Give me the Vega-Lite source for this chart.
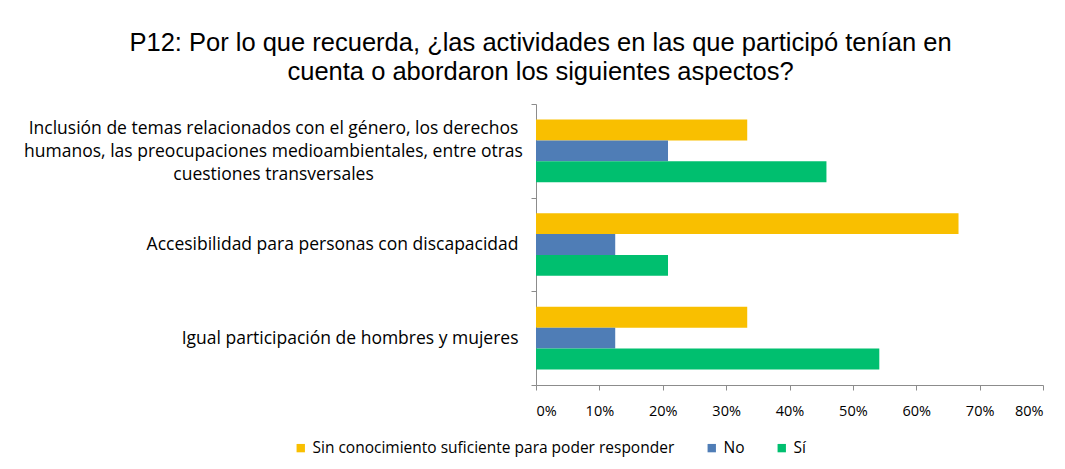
{
  "$schema": "https://vega.github.io/schema/vega-lite/v6.json",
  "width": 507,
  "height": 281,
  "padding": {"left": 23, "top": 30, "right": 10, "bottom": 10},
  "background": "white",
  "title": {
    "text": ["P12: Por lo que recuerda, ¿las actividades en las que participó tenían en", "cuenta o abordaron los siguientes aspectos?"],
    "font": "Liberation Sans",
    "fontSize": 25.5,
    "fontWeight": "normal",
    "color": "#000000",
    "lineHeight": 29,
    "anchor": "middle",
    "frame": "bounds",
    "offset": 10,
    "dx": 7
  },
  "data": {
    "values": [
      {"categoria": "Inclusión de temas relacionados con el género, los derechos|humanos, las preocupaciones medioambientales, entre otras|cuestiones transversales", "serie": "Sin conocimiento suficiente para poder responder", "orden": 1, "valor": 0.3333},
      {"categoria": "Inclusión de temas relacionados con el género, los derechos|humanos, las preocupaciones medioambientales, entre otras|cuestiones transversales", "serie": "No", "orden": 2, "valor": 0.2083},
      {"categoria": "Inclusión de temas relacionados con el género, los derechos|humanos, las preocupaciones medioambientales, entre otras|cuestiones transversales", "serie": "Sí", "orden": 3, "valor": 0.4583},
      {"categoria": "Accesibilidad para personas con discapacidad", "serie": "Sin conocimiento suficiente para poder responder", "orden": 1, "valor": 0.6667},
      {"categoria": "Accesibilidad para personas con discapacidad", "serie": "No", "orden": 2, "valor": 0.125},
      {"categoria": "Accesibilidad para personas con discapacidad", "serie": "Sí", "orden": 3, "valor": 0.2083},
      {"categoria": "Igual participación de hombres y mujeres", "serie": "Sin conocimiento suficiente para poder responder", "orden": 1, "valor": 0.3333},
      {"categoria": "Igual participación de hombres y mujeres", "serie": "No", "orden": 2, "valor": 0.125},
      {"categoria": "Igual participación de hombres y mujeres", "serie": "Sí", "orden": 3, "valor": 0.5417}
    ]
  },
  "mark": {"type": "bar"},
  "encoding": {
    "y": {
      "field": "categoria",
      "type": "nominal",
      "sort": null,
      "title": null,
      "scale": {"paddingInner": 0, "paddingOuter": 0},
      "axis": {
        "labelExpr": "split(datum.label, '|')",
        "labelFont": "Open Sans",
        "labelFontSize": 17.5,
        "labelColor": "#000000",
        "labelLineHeight": 23,
        "labelLimit": 700,
        "labelPadding": {"condition": {"test": "indexof(datum.label, '|') >= 0", "value": 258}, "value": 13},
        "labelAlign": {"condition": {"test": "indexof(datum.label, '|') >= 0", "value": "center"}, "value": "right"},
        "labelOffset": {"condition": {"test": "indexof(datum.label, '|') >= 0", "value": -22}, "value": 0},
        "tickBand": "extent",
        "tickSize": 5,
        "tickColor": "#8c8c8c",
        "domainColor": "#8c8c8c",
        "grid": false
      }
    },
    "yOffset": {"field": "serie", "type": "nominal", "sort": {"field": "orden"}, "scale": {"paddingInner": 0, "paddingOuter": 0.74}},
    "x": {
      "field": "valor",
      "type": "quantitative",
      "title": null,
      "scale": {"domain": [0, 0.8], "nice": false},
      "axis": {
        "format": ".0%",
        "values": [0, 0.1, 0.2, 0.3, 0.4, 0.5, 0.6, 0.7, 0.8],
        "grid": false,
        "labelFont": "Open Sans",
        "labelFontSize": 14.5,
        "labelColor": "#000000",
        "labelPadding": 14,
        "tickSize": 5,
        "tickColor": "#8c8c8c",
        "domainColor": "#8c8c8c"
      }
    },
    "color": {
      "field": "serie",
      "type": "nominal",
      "sort": {"field": "orden"},
      "scale": {
        "domain": ["Sin conocimiento suficiente para poder responder", "No", "Sí"],
        "range": ["#F9BF00", "#4F7DB6", "#00BF6F"]
      },
      "legend": {
        "title": null,
        "orient": "none",
        "direction": "horizontal",
        "legendX": -243,
        "legendY": 336,
        "symbolType": "square",
        "symbolSize": 70,
        "symbolStrokeWidth": 0,
        "labelFont": "Open Sans",
        "labelFontSize": 15.5,
        "labelColor": "#000000",
        "labelLimit": 500,
        "columnPadding": 29
      }
    }
  },
  "config": {
    "view": {"stroke": null}
  }
}
